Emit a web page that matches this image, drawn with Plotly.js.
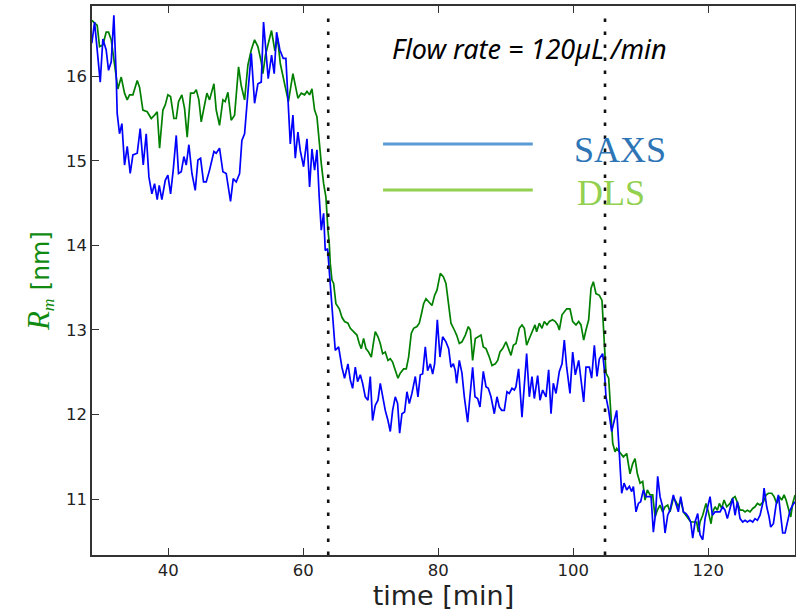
<!DOCTYPE html>
<html>
<head>
<meta charset="utf-8">
<script src="https://cdn.plot.ly/plotly-3.0.1.min.js"></script>
<style>html,body{margin:0;padding:0;background:#fff;}#chart{width:796px;height:611px;}</style>
</head>
<body>
<div id="chart"></div>
<script>
// SAXS (blue) series: time [min], radius [nm]
const saxsTime = [28.69,29.09,29.93,30.32,30.81,31.16,31.56,31.95,32.30,32.44,32.79,33.14,33.53,33.93,34.37,34.77,35.41,35.85,36.30,36.74,37.14,37.58,37.98,38.37,38.67,39.06,39.56,39.95,40.35,40.74,41.19,41.53,41.93,42.32,42.67,43.06,43.51,44.00,44.40,44.79,45.23,45.63,46.12,46.77,47.11,47.60,48.10,48.59,49.23,49.63,50.07,50.57,50.91,51.31,51.80,52.30,52.79,53.28,53.78,54.12,54.81,55.31,55.70,56.05,56.54,57.04,57.43,57.73,58.08,58.47,58.82,59.21,59.56,60.05,60.55,60.94,61.29,61.68,62.03,62.37,62.67,63.02,63.26,63.61,64.00,64.25,64.74,65.24,65.73,66.12,66.62,66.97,67.31,67.71,68.05,68.45,68.79,69.19,69.58,69.93,70.27,70.67,71.07,71.41,71.76,72.15,72.55,72.89,73.24,73.63,73.98,74.28,74.62,75.01,75.36,75.71,76.10,76.60,76.99,77.34,77.68,78.08,78.42,78.82,79.17,79.46,79.86,80.25,80.65,81.14,81.54,81.88,82.23,82.52,82.72,83.12,83.51,83.86,84.35,84.75,85.09,85.44,85.83,86.18,86.67,87.07,87.41,87.81,88.30,88.70,89.04,89.39,89.78,90.18,90.52,90.92,91.27,91.51,91.90,92.40,92.75,93.09,93.49,93.88,94.23,94.72,95.07,95.46,95.96,96.35,96.70,97.04,97.44,97.93,98.33,98.67,99.02,99.51,99.91,100.30,100.80,101.14,101.54,101.88,102.38,102.72,103.12,103.51,103.86,104.35,104.60,104.84,105.24,105.68,106.03,106.43,106.82,107.17,107.52,107.91,108.31,108.65,108.90,109.29,109.64,109.98,110.38,110.73,111.12,111.52,111.86,112.21,112.50,112.85,113.24,113.59,113.98,114.33,114.82,115.22,115.56,115.91,116.31,116.70,117.05,117.39,117.69,118.03,118.43,118.77,119.17,119.52,119.86,120.26,120.60,121.00,121.34,121.74,122.13,122.48,122.82,123.22,123.61,123.96,124.31,124.70,125.10,125.44,125.79,126.18,126.58,126.92,127.27,127.66,128.06,128.26,128.65,129.00,129.24,129.64,130.03,130.38,130.73,131.02,131.37,131.71,132.11,132.50,132.85];
const saxsR = [16.39,16.64,15.93,16.44,16.31,16.07,16.17,16.72,15.99,15.56,15.32,15.44,14.95,15.17,14.85,15.07,15.09,15.38,14.95,15.32,14.81,14.61,14.73,14.54,14.71,14.54,14.77,14.83,14.61,14.89,15.30,14.85,14.87,15.05,14.95,15.19,14.85,14.65,15.01,15.03,14.75,14.75,14.89,15.11,15.09,15.15,14.87,14.85,14.52,14.79,14.75,14.85,15.24,15.32,15.80,16.27,15.68,15.91,15.93,16.64,15.97,16.25,16.03,16.52,16.31,16.21,16.21,15.72,15.20,15.54,15.03,15.34,15.12,14.93,15.26,14.69,15.14,14.89,15.13,14.57,14.18,14.38,13.94,13.96,13.55,13.19,12.76,12.80,12.56,12.43,12.60,12.41,12.31,12.56,12.39,12.47,12.37,12.21,12.17,12.45,11.93,12.11,12.17,12.37,12.21,12.05,11.93,11.80,12.05,12.21,12.13,11.78,12.01,12.03,12.27,12.13,12.25,12.45,12.21,12.47,12.48,12.80,12.52,12.60,12.48,12.60,13.12,12.68,12.92,12.86,12.78,12.56,12.60,12.52,12.37,12.64,12.49,12.21,11.91,12.25,12.56,12.21,12.19,12.09,12.51,12.33,12.31,12.21,12.01,12.21,12.09,12.05,12.05,12.27,12.25,12.31,12.29,12.33,12.54,11.97,12.33,12.72,12.21,12.45,12.19,12.46,12.17,12.29,12.21,12.53,12.01,12.37,12.25,12.51,12.60,12.88,12.56,12.25,12.74,12.47,12.64,12.41,12.15,12.56,12.56,12.43,12.82,12.45,12.66,12.72,12.53,12.21,12.05,11.80,11.91,12.05,11.54,11.07,11.19,11.11,11.15,11.09,11.15,10.85,10.95,10.97,11.11,11.03,11.03,11.03,10.61,10.85,11.27,11.03,10.91,10.60,10.81,10.87,11.05,10.95,10.85,11.03,10.85,10.83,10.79,10.73,10.54,10.73,10.83,10.58,10.52,10.77,10.91,11.03,10.81,10.85,10.85,10.85,10.91,10.87,10.77,10.91,11.01,10.81,10.97,10.77,10.73,10.75,10.73,10.75,10.73,10.77,10.75,10.81,10.95,11.13,10.91,10.79,10.67,10.71,10.93,11.05,10.79,10.60,10.60,10.71,10.87,10.93,10.97];

// DLS (green) series: time [min], radius [nm]
const dlsTime = [28.69,29.48,29.83,30.32,30.81,31.16,31.56,32.05,32.54,33.04,33.53,33.93,34.27,34.77,35.41,35.75,36.25,36.89,37.48,37.98,38.37,38.72,39.21,39.56,39.95,40.35,40.84,41.19,41.53,42.02,42.42,42.81,43.31,43.80,44.15,44.54,44.89,45.38,45.73,46.12,46.77,47.11,47.60,48.10,48.44,48.84,49.33,49.83,50.42,50.81,51.31,51.80,52.30,52.79,53.28,53.78,54.02,54.40,54.90,55.30,55.80,56.20,56.60,56.90,57.30,57.80,58.47,58.82,59.21,59.71,60.20,60.55,60.94,61.29,61.68,62.03,62.37,62.67,63.02,63.36,63.66,63.86,64.00,64.25,64.50,64.84,65.34,65.73,66.12,66.62,66.97,67.46,67.95,68.30,68.60,68.94,69.29,69.68,70.08,70.42,70.67,71.07,71.41,71.76,72.15,72.55,72.89,73.24,73.63,74.03,74.37,74.87,75.26,75.61,76.00,76.35,76.84,77.19,77.48,77.83,78.18,78.57,79.07,79.46,79.81,80.30,80.75,81.14,81.54,81.88,82.38,82.72,83.12,83.51,84.01,84.45,84.75,85.09,85.49,85.83,86.33,86.67,87.07,87.56,87.96,88.45,88.80,89.14,89.54,90.03,90.52,90.77,91.12,91.51,92.01,92.40,92.75,93.09,93.49,93.98,94.33,94.57,94.97,95.36,95.71,96.10,96.45,96.94,97.34,97.68,97.93,98.33,98.67,99.02,99.51,99.91,100.40,100.80,101.14,101.54,101.88,102.28,102.62,102.97,103.36,103.86,104.25,104.50,104.65,104.84,105.24,105.54,105.84,106.18,106.43,106.82,107.42,107.91,108.40,108.80,109.15,109.49,109.89,110.28,110.63,110.97,111.37,111.76,112.11,112.45,112.85,113.24,113.59,113.98,114.33,114.82,115.22,115.56,115.91,116.31,116.70,117.05,117.39,117.89,118.28,118.53,118.77,119.17,119.66,120.01,120.40,120.65,121.00,121.34,121.64,121.98,122.33,122.73,123.22,123.61,123.96,124.36,124.70,125.10,125.44,125.79,126.18,126.58,126.92,127.27,127.66,128.16,128.55,128.90,129.39,129.74,130.13,130.53,130.87,131.22,131.52,131.86,132.21,132.50,132.85];
const dlsR = [16.66,16.60,16.35,16.37,16.52,16.52,16.43,16.11,15.85,15.99,15.80,15.72,15.78,15.78,15.95,15.87,15.60,15.58,15.50,15.54,15.58,15.15,15.60,15.66,15.78,15.76,15.50,15.50,15.70,15.78,15.62,15.28,15.80,15.80,15.84,15.72,15.46,15.66,15.80,15.72,15.91,15.60,15.42,15.72,15.70,15.81,15.48,15.54,16.11,15.89,15.72,16.13,16.31,16.43,16.35,16.17,16.03,16.25,16.40,16.54,16.30,16.45,16.15,16.03,15.87,15.70,16.03,15.87,15.74,15.80,15.78,15.82,15.78,15.85,15.60,15.52,15.20,14.97,14.73,14.57,14.18,14.02,13.79,13.59,13.55,13.31,13.25,13.15,13.10,13.08,13.02,12.98,12.94,12.84,12.78,12.90,12.78,12.74,12.68,12.86,12.98,12.92,12.84,12.72,12.74,12.64,12.66,12.62,12.52,12.43,12.49,12.54,12.54,12.68,12.96,13.02,13.04,13.08,13.18,13.31,13.37,13.33,13.29,13.41,13.47,13.67,13.63,13.55,13.31,13.08,13.00,12.94,12.84,12.86,12.94,13.04,13.00,12.64,12.90,12.92,12.94,12.80,12.78,12.68,12.58,12.60,12.64,12.74,12.78,12.86,12.74,12.70,12.82,12.84,13.02,13.06,13.02,12.82,12.90,13.00,13.06,12.98,13.08,13.02,13.10,13.06,13.10,13.12,13.10,13.06,13.00,13.18,13.21,13.25,13.25,13.10,13.06,13.10,13.06,12.88,13.00,13.12,13.49,13.57,13.43,13.41,13.35,13.04,12.76,12.49,12.43,12.01,11.66,11.56,11.60,11.56,11.50,11.54,11.30,11.42,11.48,11.30,11.19,11.21,10.99,11.11,11.05,11.05,10.79,10.87,10.93,10.85,10.91,10.93,10.85,11.01,10.97,10.91,10.99,10.85,10.81,10.77,10.73,10.73,10.73,10.61,10.73,10.81,10.95,10.85,10.71,10.85,10.91,10.87,10.95,10.89,10.99,10.91,10.95,11.01,11.03,10.95,10.87,10.87,10.85,10.87,10.85,10.89,10.91,10.95,10.93,10.97,11.05,11.07,11.07,11.03,10.95,11.03,10.99,11.05,10.99,10.89,10.79,10.95,11.05];

// Vertical markers (flow changes), min
const markerTimes = [63.7, 104.7];
const xTicks = [40, 60, 80, 100, 120];
const yTicks = [11, 12, 13, 14, 15, 16];
const legendNames = ['SAXS', 'DLS'];
const noteText = 'Flow rate = 120µL /min';

const shapes = markerTimes.map(t => ({
  type: 'line', xref: 'x', yref: 'paper', x0: t, x1: t, y0: 0, y1: 0.985,
  line: {color: '#111', width: 2.6, dash: '3.5px,9.5px'}
}));
// hand-drawn legend lines
shapes.push({type:'line', xref:'paper', yref:'paper', x0:0.414, x1:0.627, y0:0.7486, y1:0.7486, line:{color:'#5b9bd5', width:3}});
shapes.push({type:'line', xref:'paper', yref:'paper', x0:0.414, x1:0.627, y0:0.6648, y1:0.6648, line:{color:'#92d050', width:3}});

const traces = [
  {x: dlsTime, y: dlsR, type: 'scatter', mode: 'lines', name: legendNames[1], line: {color: '#008000', width: 1.7}},
  {x: saxsTime, y: saxsR, type: 'scatter', mode: 'lines', name: legendNames[0], line: {color: '#0000ff', width: 1.7}}
];

const layout = {
  width: 796, height: 611,
  margin: {l: 92, r: 1, t: 6, b: 56},
  paper_bgcolor: '#fff', plot_bgcolor: '#fff',
  showlegend: false,
  font: {family: 'DejaVu Sans, sans-serif', size: 16, color: '#222'},
  xaxis: {
    range: [28.71, 132.84], tickvals: xTicks, ticks: 'inside', ticklen: 7, tickwidth: 1, tickcolor: '#333',
    showline: true, linecolor: '#333', linewidth: 1.6, mirror: 'ticks', showgrid: false, zeroline: false,
    tickfont: {size: 16.5, color: '#222'},
    title: {text: 'time [min]', font: {size: 27, color: '#222'}, standoff: 6}
  },
  yaxis: {
    range: [10.34, 16.83], tickvals: yTicks, ticks: 'inside', ticklen: 7, tickwidth: 1, tickcolor: '#333',
    showline: true, linecolor: '#333', linewidth: 1.6, mirror: true, showgrid: false, zeroline: false,
    tickfont: {size: 16.5, color: '#222'},
    title: {text: '<span style="font-family:Liberation Serif;font-style:italic;font-size:31px">R</span><sub><span style="font-family:Liberation Serif;font-style:italic">m</span></sub> [nm]', font: {size: 25, color: '#108a10'}, standoff: 9}
  },
  yaxis2: {
    overlaying: 'y', side: 'right', range: [0.432, 8.792], tick0: 0, dtick: 1,
    ticks: 'inside', ticklen: 7, tickwidth: 1, tickcolor: '#333', showticklabels: false,
    showgrid: false, zeroline: false, showline: false
  },
  shapes: shapes,
  annotations: [
    {xref: 'paper', yref: 'paper', x: 0.4239, y: 0.9217, xanchor: 'left', yanchor: 'middle', showarrow: false,
     text: '<i>' + noteText + '</i>', font: {family: 'Noto Sans, Open Sans, sans-serif', size: 27, color: '#000'}},
    {xref: 'paper', yref: 'paper', x: 0.6828, y: 0.7377, xanchor: 'left', yanchor: 'middle', showarrow: false,
     text: legendNames[0], font: {family: 'Liberation Serif, serif', size: 36, color: '#2e75b6'}},
    {xref: 'paper', yref: 'paper', x: 0.6871, y: 0.6594, xanchor: 'left', yanchor: 'middle', showarrow: false,
     text: legendNames[1], font: {family: 'Liberation Serif, serif', size: 36, color: '#92d050'}}
  ]
};

Plotly.newPlot('chart', traces, layout, {displayModeBar: false, staticPlot: true});
</script>
</body>
</html>
